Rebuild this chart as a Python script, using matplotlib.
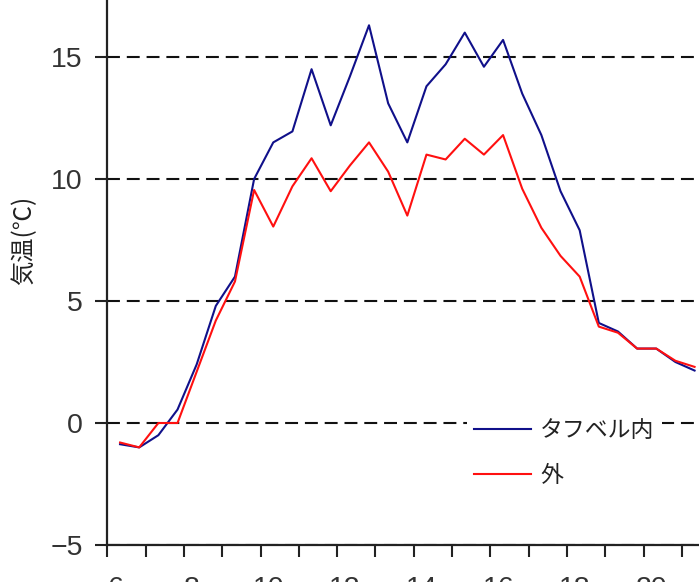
import matplotlib
matplotlib.use("Agg")
import matplotlib.pyplot as plt
import matplotlib.transforms as mtransforms
import numpy as np

# 時刻 (30分毎)
times = ["6:20", "6:50", "7:20", "7:50", "8:20", "8:50", "9:20", "9:50",
         "10:20", "10:50", "11:20", "11:50", "12:20", "12:50", "13:20", "13:50",
         "14:20", "14:50", "15:20", "15:50", "16:20", "16:50", "17:20", "17:50",
         "18:20", "18:50", "19:20", "19:50", "20:20", "20:50", "21:20"]
inside = [-0.87, -1.0, -0.5, 0.55, 2.4, 4.8, 6.0, 10.0,
          11.5, 11.95, 14.5, 12.2, 14.2, 16.3, 13.1, 11.5,
          13.8, 14.7, 16.0, 14.6, 15.7, 13.5, 11.8, 9.5,
          7.9, 4.1, 3.75, 3.05, 3.05, 2.5, 2.15]
outside = [-0.8, -1.0, 0.0, 0.0, 2.1, 4.2, 5.8, 9.55,
           8.05, 9.7, 10.85, 9.5, 10.55, 11.5, 10.3, 8.5,
           11.0, 10.8, 11.65, 11.0, 11.8, 9.6, 8.0, 6.85,
           6.0, 3.95, 3.7, 3.05, 3.05, 2.55, 2.3]
labels = ["タフベル内", "外"]
yticks = [-5, 0, 5, 10, 15]
xticks = [6, 8, 10, 12, 14, 16, 18, 20]

hours = [int(t.split(":")[0]) + int(t.split(":")[1]) / 60 for t in times]

fig = plt.figure(figsize=(6.99, 5.82), dpi=100)
ax = fig.add_axes([107.3 / 699, 37 / 582, 612.8 / 699, 610 / 582])

ax.plot(hours, inside, color="#10108a", lw=1.5, label=labels[0])
ax.plot(hours, outside, color="#ff1010", lw=1.5, label=labels[1])

ax.set_xlim(6, 22)
ax.set_ylim(-5, 20)
ax.set_yticks(yticks)
ax.set_xticks(xticks)
ax.set_xticks(np.arange(6, 22), minor=True)
ax.yaxis.grid(True, color="#111111", lw=1.5, linestyle=(0, (6.2, 3.3)))

for s in ["top", "right"]:
    ax.spines[s].set_visible(False)
for s in ["left", "bottom"]:
    ax.spines[s].set_linewidth(1.6)
    ax.spines[s].set_color("#222222")

ax.tick_params(axis="both", which="both", direction="out", length=8.5, width=1.5,
               color="#222222", labelcolor="#333333")
ax.tick_params(axis="y", labelsize=20.5, pad=9)
ax.tick_params(axis="x", labelsize=20.5, pad=14)
for lab in ax.get_yticklabels() + ax.get_xticklabels():
    lab.set_fontfamily("Liberation Sans")
off = mtransforms.ScaledTranslation(8 / 100, 0, fig.dpi_scale_trans)
for lab in ax.get_xticklabels():
    lab.set_transform(lab.get_transform() + off)

fig.text(24 / 699, 1 - 240 / 582, "気温(℃)", rotation=90, ha="center", va="center",
         fontsize=17.5, color="#222222", family=["Noto Sans CJK JP", "DejaVu Sans"])

leg = ax.legend(loc="upper left", bbox_to_anchor=(467 / 699, 1 - 412 / 582),
                bbox_transform=fig.transFigure, frameon=True, fancybox=False,
                edgecolor="none", facecolor="white", framealpha=1,
                prop={"family": ["Noto Sans CJK JP", "DejaVu Sans"], "size": 16.5},
                handlelength=2.5, handletextpad=0.4, labelspacing=0.95,
                borderpad=0.3, borderaxespad=0)
for t in leg.get_texts():
    t.set_color("#222222")

fig.savefig("out.png", dpi=100)
